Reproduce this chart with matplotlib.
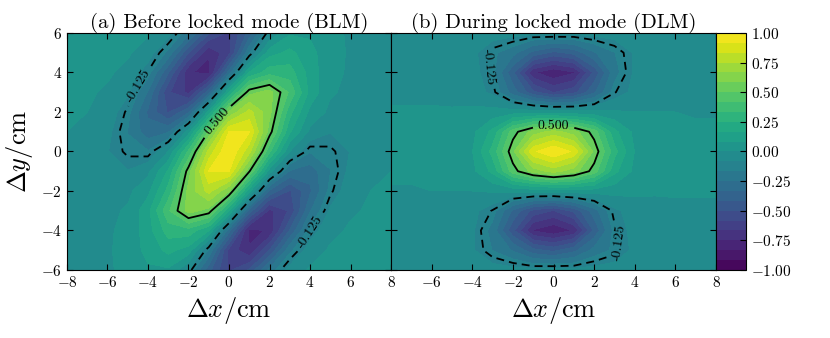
import numpy as np
import matplotlib
matplotlib.use("Agg")
import matplotlib.pyplot as plt

plt.rcParams["font.family"] = "serif"
plt.rcParams["font.serif"] = ["cmr10"]
plt.rcParams["mathtext.fontset"] = "cm"
plt.rcParams["axes.formatter.use_mathtext"] = True

# lag grid (cm)
x_cm = np.arange(-8, 9)
y_cm = np.arange(-6, 7)

# correlation x100, rows from dy=-6 (bottom) to dy=6 (top)
corr_blm_pct = [
    [-2, -2, -1, 2, 7, 7, -8, -39, -60, -49, -22, -5, 1, 2, 2, 2, 2],
    [-2, -2, -1, 3, 11, 19, 13, -18, -61, -74, -50, -19, -4, 1, 2, 2, 2],
    [-2, -2, -1, 2, 13, 29, 30, 17, -30, -78, -74, -41, -13, -2, 1, 2, 2],
    [-2, -3, -2, 1, 14, 40, 62, 55, 17, -37, -69, -57, -26, -7, -1, 1, 2],
    [-2, -3, -4, -2, 6, 28, 61, 78, 59, 11, -35, -51, -35, -14, -3, 0, 1],
    [-2, -3, -6, -8, -2, 18, 54, 92, 92, 51, 4, -26, -30, -17, -6, -2, 0],
    [-1, -3, -8, -14, -16, 0, 35, 78, 100, 78, 35, 0, -16, -14, -8, -3, -1],
    [0, -2, -6, -17, -30, -26, 4, 51, 92, 92, 54, 18, -2, -8, -6, -3, -2],
    [1, 0, -3, -14, -35, -51, -35, 11, 59, 78, 61, 28, 6, -2, -4, -3, -2],
    [2, 1, -1, -7, -26, -57, -69, -37, 17, 55, 62, 40, 14, 1, -2, -3, -2],
    [2, 2, 1, -2, -13, -41, -74, -78, -30, 17, 30, 29, 13, 2, -1, -2, -2],
    [2, 2, 2, 1, -4, -19, -50, -74, -61, -18, 13, 19, 11, 3, -1, -2, -2],
    [2, 2, 2, 2, 1, -5, -22, -49, -60, -39, -8, 7, 7, 2, -1, -2, -2],
]

corr_dlm_pct = [
    [-3, -3, -3, -3, -3, -4, -5, -6, -5, -6, -5, -4, -3, -3, -3, -3, -3],
    [-3, -3, -3, -3, -7, -17, -26, -39, -44, -36, -22, -15, -6, -3, -3, -3, -2],
    [-2, -3, -3, -4, -7, -20, -48, -76, -82, -74, -40, -14, -5, -4, -3, -2, -2],
    [-2, -2, -3, -4, -6, -13, -35, -53, -59, -48, -29, -10, -5, -3, -2, -2, -2],
    [-1, -1, 0, 0, 0, 1, 2, 3, 4, 5, 4, 3, 2, 1, 1, 1, 1],
    [2, 2, 2, 3, 6, 19, 46, 62, 70, 62, 46, 19, 6, 3, 3, 2, 2],
    [2, 3, 3, 4, 8, 28, 56, 90, 100, 90, 56, 28, 8, 4, 3, 3, 2],
    [2, 2, 3, 3, 6, 19, 46, 62, 70, 62, 46, 19, 6, 3, 2, 2, 2],
    [1, 1, 1, 1, 2, 3, 4, 5, 4, 3, 2, 1, 0, 0, 0, -1, -1],
    [-2, -2, -2, -3, -5, -10, -29, -48, -59, -53, -35, -13, -6, -4, -3, -2, -2],
    [-2, -2, -3, -4, -5, -14, -40, -74, -82, -76, -48, -20, -7, -4, -3, -3, -2],
    [-2, -3, -3, -3, -6, -15, -22, -36, -44, -39, -26, -17, -7, -3, -3, -3, -3],
    [-3, -3, -3, -3, -3, -4, -5, -6, -5, -6, -5, -4, -3, -3, -3, -3, -3],
]

titles = ["(a) Before locked mode (BLM)", "(b) During locked mode (DLM)"]
line_levels = [-0.125, 0.5]
label_spots = [
    [(-0.9, 1.8), (-4.4, 3.3), (3.9, -4.0)],
    [(0.0, 1.25), (-3.2, 4.3), (3.4, -4.6)],
]

fig = plt.figure(figsize=(8.3, 3.38), dpi=100)
ax1 = fig.add_axes([0.0807, 0.2012, 0.3904, 0.7012])
ax2 = fig.add_axes([0.4711, 0.2012, 0.3916, 0.7012])
cax = fig.add_axes([0.8627, 0.2012, 0.0361, 0.7012])

levels = np.linspace(-1, 1, 25)
for ax, pct, title, spots in zip([ax1, ax2], [corr_blm_pct, corr_dlm_pct], titles, label_spots):
    f = np.array(pct) / 100.0
    cf = ax.contourf(x_cm, y_cm, f, levels=levels, cmap="viridis")
    cs = ax.contour(x_cm, y_cm, f, levels=line_levels, colors="k", linewidths=1.3,
                    linestyles=[(0, (4.4, 2.8)), "solid"])
    ax.clabel(cs, fmt="%1.3f", fontsize=10, manual=spots)
    ax.set_title(title, fontsize=14.8, pad=4)
    ax.set_xlabel(r"$\Delta x/\mathrm{cm}$", fontsize=19)
    ax.set_xlim(-8, 8)
    ax.set_ylim(-6, 6)
    ax.set_yticks(np.arange(-6, 7, 2))
    ax.tick_params(direction="in", top=True, right=True, length=4, labelsize=11)

ax1.set_xticks(np.arange(-8, 9, 2))
ax2.set_xticks(np.arange(-6, 9, 2))
ax1.set_ylabel(r"$\Delta y/\mathrm{cm}$", fontsize=19)
ax2.set_yticklabels([])

cb = fig.colorbar(cf, cax=cax, ticks=np.linspace(-1, 1, 9))
cax.tick_params(direction="in", length=4, labelsize=11)

fig.savefig("out.png", dpi=100)
